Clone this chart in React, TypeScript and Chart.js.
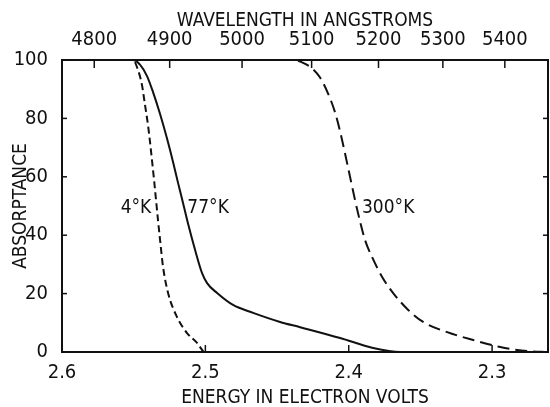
import React, { useEffect, useRef } from 'react';
import { Chart, registerables } from 'chart.js';

Chart.register(...registerables);

// ---- data ----
const HC = 12372; // eV·Å conversion used for the top axis
const energyTicks = [2.6, 2.5, 2.4, 2.3];
const wavelengthTicks = [4800, 4900, 5000, 5100, 5200, 5300, 5400];
const absorptanceTicks = [0, 20, 40, 60, 80, 100];

const energy4K = [2.556, 2.5505, 2.547, 2.5442, 2.5421, 2.54, 2.5386, 2.5372, 2.5358, 2.5344, 2.533, 2.5316, 2.5295, 2.526, 2.5198, 2.5128, 2.5058, 2.5013];
const absorb4K = [100, 100, 96.6, 91.4, 84.6, 77.7, 71.9, 65.5, 59, 52, 45, 38.4, 29.1, 20.2, 12, 6.5, 3.1, 0];

const energy77K = [2.556, 2.5505, 2.5456, 2.5407, 2.5365, 2.5316, 2.5267, 2.5225, 2.5191, 2.5163, 2.5121, 2.5072, 2.5023, 2.4988, 2.4918, 2.4807, 2.4667, 2.4479, 2.4339, 2.406, 2.383, 2.3641, 2.3432];
const absorb77K = [100, 100, 98.4, 94.5, 89, 81.5, 73, 65, 58, 52.5, 44, 35, 27, 23.6, 20.2, 16.1, 13.4, 10.3, 8.5, 4.8, 1.4, 0, 0];

const energy300K = [2.4479, 2.4388, 2.4318, 2.4248, 2.42, 2.4144, 2.4095, 2.406, 2.4025, 2.399, 2.3955, 2.392, 2.3886, 2.3837, 2.3767, 2.369, 2.3585, 2.3481, 2.3313, 2.3132, 2.2943, 2.2755, 2.2609];
const absorb300K = [100, 100, 99, 96.8, 94, 88.5, 82, 75.5, 67.8, 59.8, 51.8, 44.5, 38.3, 32.5, 25.7, 20.2, 14.4, 10.3, 6.8, 4.1, 1.7, 0.3, 0];

const curveLabels = ['4°K', '77°K', '300°K'];
const curveLabelEnergy = [2.5484, 2.4981, 2.3725];
const curveLabelAbsorb = [49.3, 49.3, 49.3];

const X_MIN = 2.261;
const X_MAX = 2.6;

const INK = '#111111';
const FONT = "'Liberation Sans Narrow', 'DejaVu Sans Condensed', 'Roboto Condensed', 'Liberation Sans', sans-serif";

const toPoints = (xs: number[], ys: number[]) => xs.map((x, i) => ({ x, y: ys[i] }));

const inwardTicks = {
  id: 'inwardTicks',
  afterDatasetsDraw(chart: any) {
    const ctx = chart.ctx;
    const { x, xTop, y, y2 } = chart.scales;
    ctx.save();
    ctx.strokeStyle = INK;
    ctx.lineWidth = 1.5;
    const line = (a: number, b: number, c: number, d: number) => {
      ctx.beginPath();
      ctx.moveTo(a, b);
      ctx.lineTo(c, d);
      ctx.stroke();
    };
    x.ticks.forEach((t: any) => {
      const p = x.getPixelForValue(t.value);
      line(p, x.top, p, x.top - 7);
    });
    xTop.ticks.forEach((t: any) => {
      const p = xTop.getPixelForValue(t.value);
      line(p, xTop.bottom, p, xTop.bottom + 8);
    });
    y.ticks.forEach((t: any) => {
      const p = y.getPixelForValue(t.value);
      line(y.right, p, y.right + 5, p);
    });
    y2.ticks.forEach((t: any) => {
      const p = y2.getPixelForValue(t.value);
      line(y2.left, p, y2.left - 5, p);
    });
    // curve labels
    ctx.fillStyle = INK;
    ctx.font = `19px ${FONT}`;
    ctx.textAlign = 'center';
    ctx.textBaseline = 'middle';
    curveLabels.forEach((lab, i) => {
      ctx.fillText(lab, x.getPixelForValue(curveLabelEnergy[i]), y.getPixelForValue(curveLabelAbsorb[i]));
    });
    ctx.restore();
  },
};

export default function App() {
  const ref = useRef<HTMLCanvasElement | null>(null);

  useEffect(() => {
    if (!ref.current) return;
    const tickFont = { family: FONT, size: 20 };
    const titleFont = { family: FONT, size: 19 };
    const chart = new Chart(ref.current, {
      type: 'line',
      data: {
        datasets: [
          {
            label: '4°K',
            data: toPoints(energy4K, absorb4K),
            borderColor: INK,
            borderWidth: 2,
            borderDash: [7, 4],
            pointRadius: 0,
            cubicInterpolationMode: 'monotone',
            fill: false,
          },
          {
            label: '77°K',
            data: toPoints(energy77K, absorb77K),
            borderColor: INK,
            borderWidth: 2,
            pointRadius: 0,
            cubicInterpolationMode: 'monotone',
            fill: false,
          },
          {
            label: '300°K',
            data: toPoints(energy300K, absorb300K),
            borderColor: INK,
            borderWidth: 2,
            borderDash: [12, 6],
            pointRadius: 0,
            cubicInterpolationMode: 'monotone',
            fill: false,
          },
        ],
      },
      options: {
        responsive: false,
        animation: false,
        events: [],
        plugins: {
          legend: { display: false },
          tooltip: { enabled: false },
        },
        layout: { padding: 0 },
        scales: {
          x: {
            type: 'linear',
            position: 'bottom',
            min: X_MIN,
            max: X_MAX,
            reverse: true,
            grid: { display: false },
            border: { display: true, color: INK, width: 2 },
            afterBuildTicks: (s: any) => {
              s.ticks = energyTicks.map((v) => ({ value: v }));
            },
            afterFit: (s: any) => {
              s.height = 55;
            },
            ticks: {
              autoSkip: false,
              maxRotation: 0,
              padding: 1,
              color: INK,
              font: tickFont,
              callback: (v: any) => Number(v).toFixed(1),
            },
            title: {
              display: true,
              text: 'ENERGY IN ELECTRON VOLTS',
              color: INK,
              font: titleFont,
              padding: { top: 0, bottom: -2 },
            },
          },
          xTop: {
            type: 'linear',
            position: 'top',
            min: X_MIN,
            max: X_MAX,
            reverse: true,
            grid: { display: false },
            border: { display: true, color: INK, width: 2 },
            afterBuildTicks: (s: any) => {
              s.ticks = wavelengthTicks.map((w) => ({ value: HC / w }));
            },
            afterFit: (s: any) => {
              s.height = 60;
            },
            ticks: {
              autoSkip: false,
              maxRotation: 0,
              padding: 0,
              color: INK,
              font: tickFont,
              callback: (_v: any, i: number) => String(wavelengthTicks[i]),
            },
            title: {
              display: true,
              text: 'WAVELENGTH IN ANGSTROMS',
              color: INK,
              font: titleFont,
              padding: { top: 10, bottom: 0 },
            },
          },
          y: {
            type: 'linear',
            position: 'left',
            min: 0,
            max: 100,
            grid: { display: false },
            border: { display: true, color: INK, width: 2 },
            afterBuildTicks: (s: any) => {
              s.ticks = absorptanceTicks.map((v) => ({ value: v }));
            },
            afterFit: (s: any) => {
              s.width = 62;
            },
            ticks: {
              autoSkip: false,
              padding: 6,
              color: INK,
              font: tickFont,
              callback: (v: any) => String(v),
            },
            title: {
              display: true,
              text: 'ABSORPTANCE',
              color: INK,
              font: titleFont,
              padding: { top: 10, bottom: 0 },
            },
          },
          y2: {
            type: 'linear',
            position: 'right',
            min: 0,
            max: 100,
            grid: { display: false },
            border: { display: true, color: INK, width: 2 },
            afterBuildTicks: (s: any) => {
              s.ticks = absorptanceTicks.map((v) => ({ value: v }));
            },
            afterFit: (s: any) => {
              s.width = 2;
            },
            ticks: { display: false },
          },
        },
      } as any,
      plugins: [inwardTicks],
    });
    return () => chart.destroy();
  }, []);

  return (
    <div style={{ position: 'fixed', left: 0, top: 0, width: 550, height: 407, background: '#fff' }}>
      <canvas ref={ref} width={550} height={407} style={{ width: 550, height: 407, display: 'block' }} />
    </div>
  );
}
